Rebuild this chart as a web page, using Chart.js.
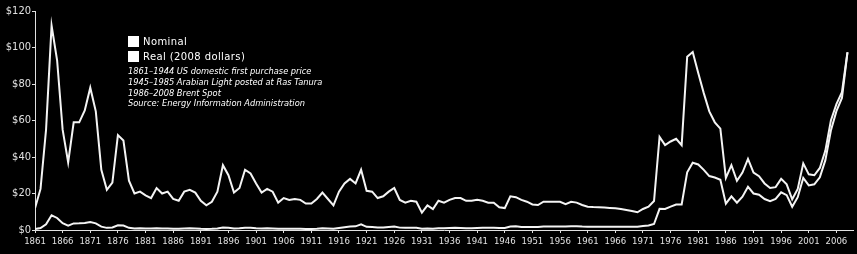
<!DOCTYPE html>
<html>
<head>
<meta charset="utf-8">
<script src="https://cdn.jsdelivr.net/npm/chart.js@4"></script>
<style>
  body { margin: 0; background: #000; }
  #wrap { position: relative; width: 857px; height: 254px; background: #000; }
  #key { position: absolute; left: 128px; top: 34px; color: #fff; font-family: 'DejaVu Sans', sans-serif; }
  .row { height: 15px; display: flex; align-items: center; font-size: 10px; letter-spacing: 0.4px; }
  .box { width: 11px; height: 11px; background: #fff; margin-right: 4px; }
  .notes { margin-top: 2px; font-family: 'DejaVu Sans Condensed', sans-serif; font-style: italic; font-size: 9.2px; line-height: 10.8px; }
</style>
</head>
<body>
<div id="wrap">
  <canvas id="oil-chart"></canvas>
  <div id="key">
    <div class="row"><span class="box"></span>Nominal</div>
    <div class="row"><span class="box"></span>Real (2008 dollars)</div>
    <div class="notes">
      1861–1944 US domestic first purchase price<br>
      1945–1985 Arabian Light posted at Ras Tanura<br>
      1986–2008 Brent Spot<br>
      Source: Energy Information Administration
    </div>
  </div>
</div>
<script>
const years = [
    1861, 1862, 1863, 1864, 1865, 1866, 1867, 1868, 1869, 1870,
    1871, 1872, 1873, 1874, 1875, 1876, 1877, 1878, 1879, 1880,
    1881, 1882, 1883, 1884, 1885, 1886, 1887, 1888, 1889, 1890,
    1891, 1892, 1893, 1894, 1895, 1896, 1897, 1898, 1899, 1900,
    1901, 1902, 1903, 1904, 1905, 1906, 1907, 1908, 1909, 1910,
    1911, 1912, 1913, 1914, 1915, 1916, 1917, 1918, 1919, 1920,
    1921, 1922, 1923, 1924, 1925, 1926, 1927, 1928, 1929, 1930,
    1931, 1932, 1933, 1934, 1935, 1936, 1937, 1938, 1939, 1940,
    1941, 1942, 1943, 1944, 1945, 1946, 1947, 1948, 1949, 1950,
    1951, 1952, 1953, 1954, 1955, 1956, 1957, 1958, 1959, 1960,
    1961, 1962, 1963, 1964, 1965, 1966, 1967, 1968, 1969, 1970,
    1971, 1972, 1973, 1974, 1975, 1976, 1977, 1978, 1979, 1980,
    1981, 1982, 1983, 1984, 1985, 1986, 1987, 1988, 1989, 1990,
    1991, 1992, 1993, 1994, 1995, 1996, 1997, 1998, 1999, 2000,
    2001, 2002, 2003, 2004, 2005, 2006, 2007, 2008,
];
const nominalPrice = [
    0.5, 1.05, 3.15, 8.06, 6.59, 3.74, 2.41, 3.63, 3.64, 3.86,
    4.34, 3.64, 1.83, 1.17, 1.35, 2.56, 2.42, 1.19, 0.86, 0.95,
    0.86, 0.78, 1.0, 0.84, 0.88, 0.71, 0.67, 0.88, 0.94, 0.87,
    0.67, 0.56, 0.64, 0.84, 1.36, 1.18, 0.79, 0.91, 1.29, 1.19,
    0.96, 0.8, 0.94, 0.86, 0.62, 0.73, 0.72, 0.72, 0.7, 0.61,
    0.61, 0.74, 0.95, 0.81, 0.64, 1.1, 1.56, 1.98, 2.01, 3.07,
    1.73, 1.61, 1.34, 1.43, 1.68, 1.88, 1.3, 1.17, 1.27, 1.19,
    0.65, 0.87, 0.67, 1.0, 0.97, 1.09, 1.18, 1.13, 1.02, 1.02,
    1.14, 1.19, 1.2, 1.21, 1.05, 1.12, 1.9, 1.99, 1.71, 1.71,
    1.71, 1.71, 1.93, 1.93, 1.93, 1.93, 1.9, 2.08, 2.08, 1.9,
    1.8, 1.8, 1.8, 1.8, 1.8, 1.8, 1.8, 1.8, 1.8, 1.8,
    2.24, 2.48, 3.29, 11.58, 11.53, 12.8, 13.92, 14.02, 31.61, 36.83,
    35.93, 32.97, 29.55, 28.78, 27.56, 14.43, 18.44, 14.92, 18.23, 23.73,
    20.0, 19.32, 16.97, 15.82, 17.02, 20.67, 19.09, 12.72, 17.97, 28.5,
    24.44, 25.02, 28.83, 38.27, 54.52, 65.14, 72.39, 97.26,
];
const realPrice = [
    12, 22.5, 55, 112, 93, 55, 37, 59, 59, 65.5,
    78, 65, 33, 22, 26, 52, 49, 27, 20, 21,
    19, 17.5, 23, 20, 21, 17, 16, 21, 22, 20.5,
    16, 13.5, 15.5, 21, 35.5, 30, 20.5, 23, 33, 31,
    25.5, 20.5, 22.5, 21, 15, 17.5, 16.5, 17, 16.5, 14.5,
    14.5, 17, 20.5, 17, 13.5, 21, 25.5, 28, 25.5, 33,
    21.5, 21, 17.5, 18.5, 21, 23, 16.5, 15, 16, 15.5,
    9.5, 13.5, 11.5, 16, 15, 16.5, 17.5, 17.5, 16, 16,
    16.5, 16, 15, 15, 12.5, 12, 18.5, 18, 16.5, 15.5,
    14, 13.7, 15.5, 15.5, 15.5, 15.5, 14.2, 15.5, 15, 13.7,
    12.8, 12.6, 12.5, 12.3, 12.1, 11.9, 11.5, 11, 10.4, 9.7,
    11.5, 12.8, 15.9, 51, 46.5, 48.5, 50, 46.5, 95, 97.5,
    86, 75, 65, 59, 55.5, 28.5, 35.5, 27, 31.5, 39,
    31.5, 29.5, 25.5, 23, 23.5, 28, 25, 16.8, 22.5, 36.5,
    30.5, 30, 34, 43.5, 60, 69, 75.5, 97.5,
];
const yearTicks = [
    1861, 1866, 1871, 1876, 1881, 1886, 1891, 1896, 1901, 1906,
    1911, 1916, 1921, 1926, 1931, 1936, 1941, 1946, 1951, 1956,
    1961, 1966, 1971, 1976, 1981, 1986, 1991, 1996, 2001, 2006,
];

const toPoints = (vals) => vals.map((v, i) => ({ x: years[i], y: v }));

const axisColor = '#e0e0e0';

const oilCanvas = document.getElementById('oil-chart');
const oilConfig = {
    type: 'line',
    data: {
        datasets: [{
            label: 'Nominal',
            data: toPoints(nominalPrice),
            borderColor: '#f4f4f4',
            borderWidth: 2,
            pointRadius: 0,
        }, {
            label: 'Real (2008 dollars)',
            data: toPoints(realPrice),
            borderColor: '#f4f4f4',
            borderWidth: 2,
            pointRadius: 0,
        }]
    },
    options: {
        responsive: true,
        maintainAspectRatio: false,
        animation: false,
        layout: { padding: { top: 11, right: 4, left: 0, bottom: 0 } },
        plugins: {
            legend: { display: false },
            tooltip: { enabled: false },
        },
        scales: {
            x: {
                type: 'linear',
                min: 1861,
                max: 2009,
                border: { color: axisColor, width: 1 },
                grid: { drawOnChartArea: false, tickLength: 3, color: axisColor },
                ticks: {
                    color: axisColor,
                    font: { family: 'DejaVu Sans Condensed', size: 9.5 },
                    maxRotation: 0,
                    autoSkip: false,
                    padding: 3,
                    callback: (v) => String(v),
                },
                afterBuildTicks: (scale) => {
                    scale.ticks = yearTicks.map((v) => ({ value: v }));
                },
                afterFit: (scale) => { scale.height = 24; },
            },
            y: {
                min: 0,
                max: 120,
                border: { color: axisColor, width: 1 },
                grid: { drawOnChartArea: false, tickLength: 3, color: axisColor },
                ticks: {
                    stepSize: 20,
                    color: axisColor,
                    font: { family: 'DejaVu Sans Condensed', size: 11 },
                    padding: 1,
                    callback: (v) => '$' + v,
                },
                afterFit: (scale) => { scale.width = 35; },
            },
        },
    }
};

const oilChart = new Chart(oilCanvas, oilConfig);
</script>
</body>
</html>
